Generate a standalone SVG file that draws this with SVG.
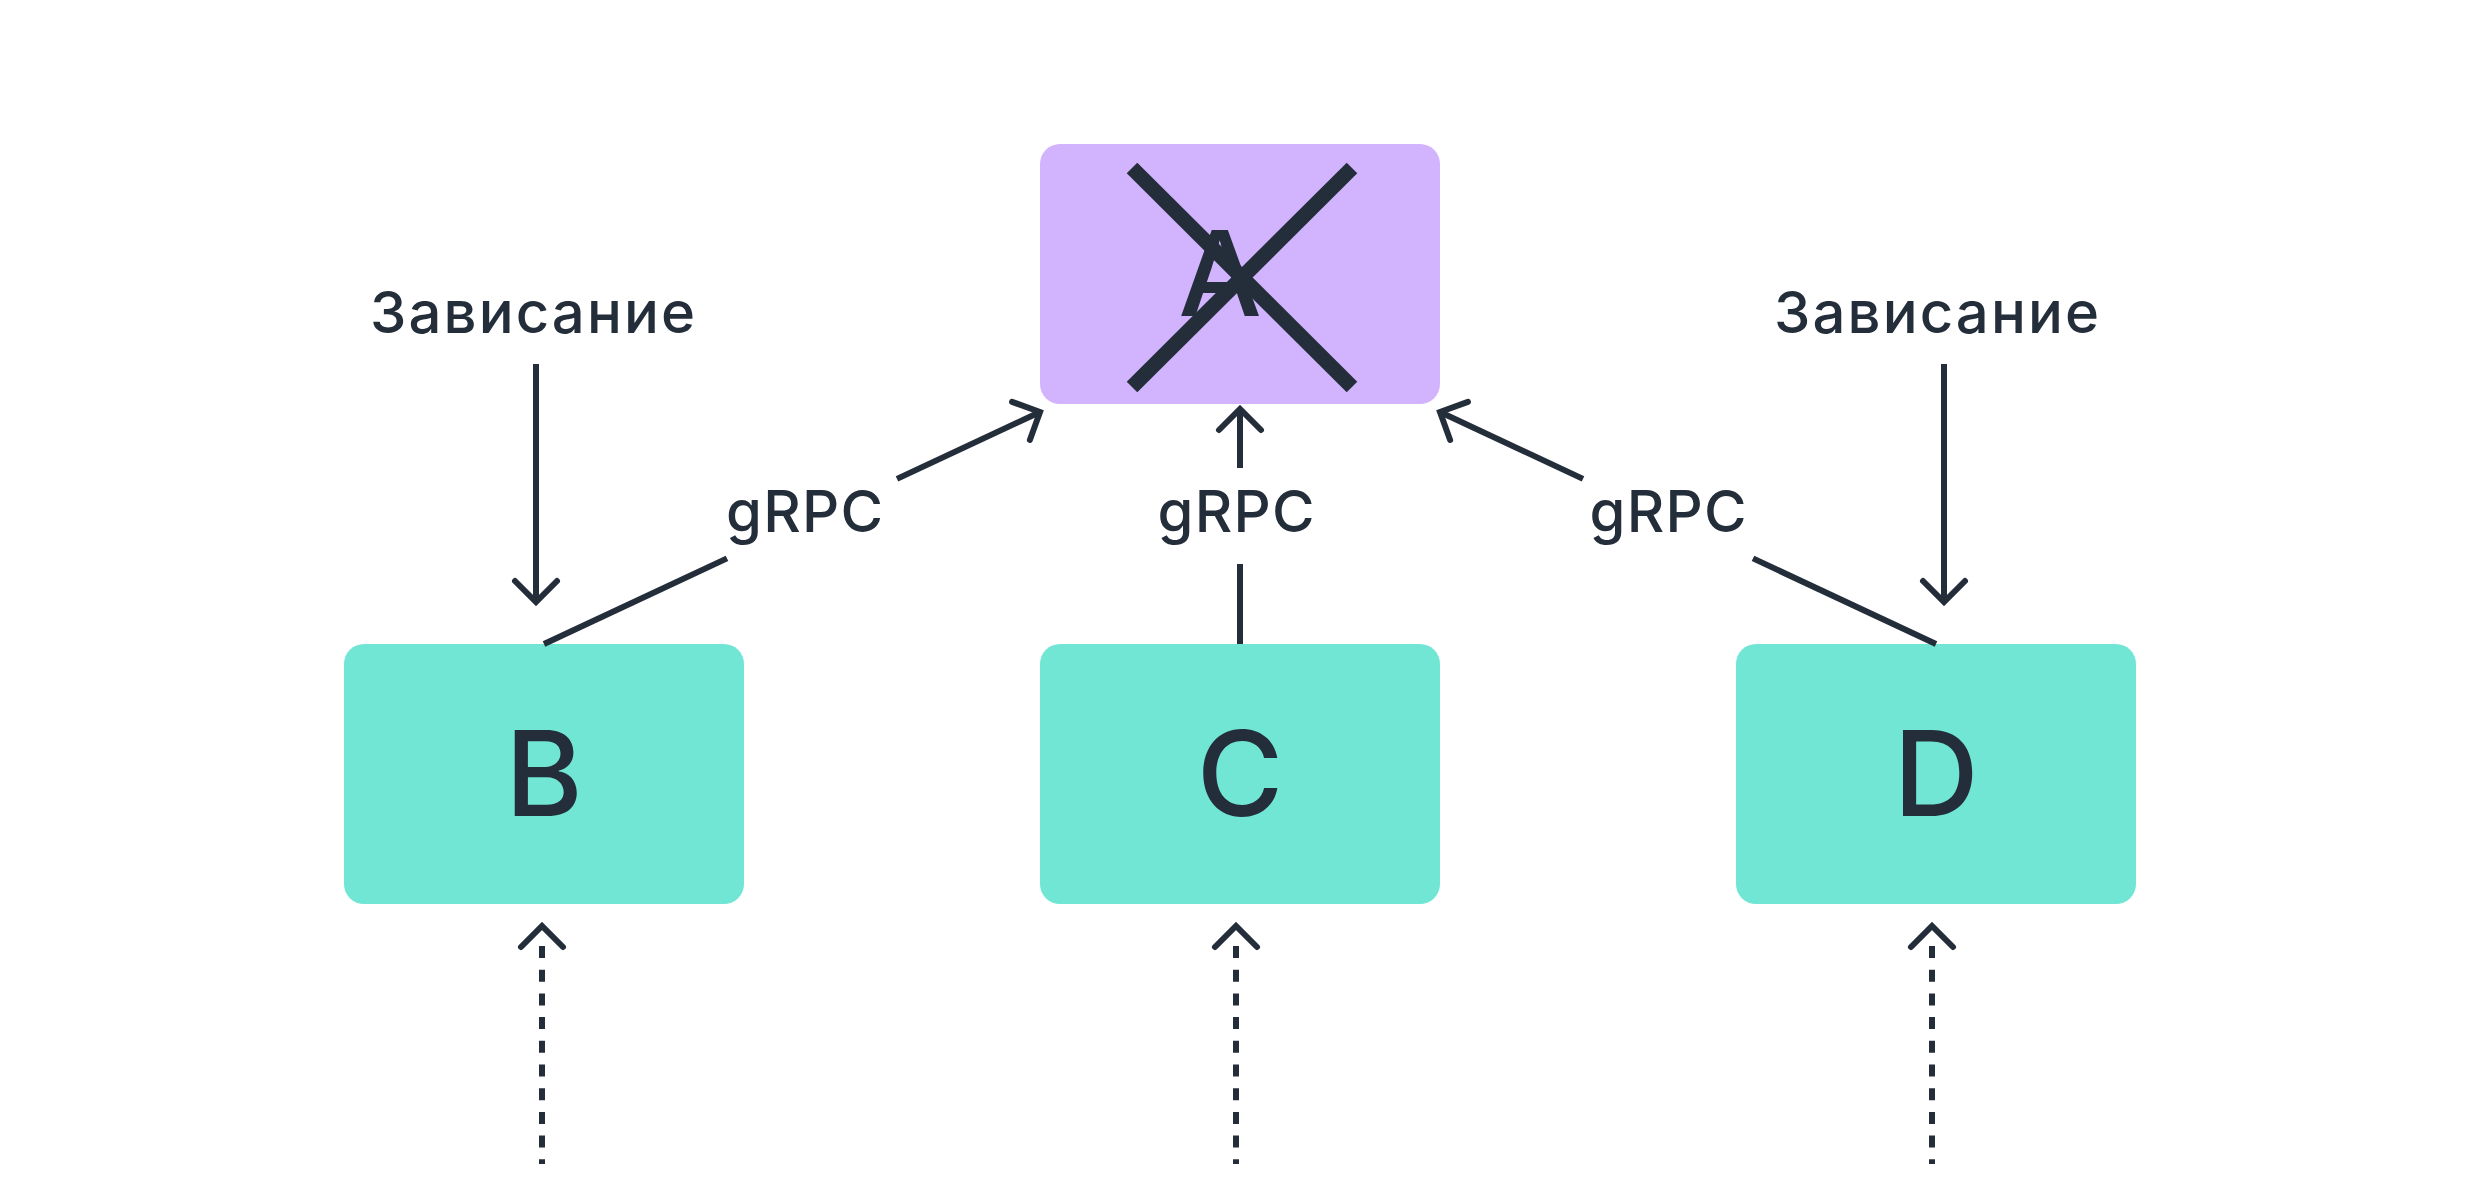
<svg xmlns="http://www.w3.org/2000/svg" width="2480" height="1200" viewBox="0 0 2480 1200">
<style>
.lbl{font-family:Inter,"Noto Sans","DejaVu Sans",sans-serif;font-size:58px;font-weight:500;fill:#242e3a;text-anchor:middle}
.big{font-family:Inter,"Noto Sans","DejaVu Sans",sans-serif;font-size:118px;font-weight:500;fill:#242e3a;text-anchor:middle}
.ln{stroke:#242e3a;stroke-width:6;fill:none}
.dot{stroke:#242e3a;stroke-width:6;fill:none;stroke-dasharray:12 11.7}
.chev{stroke:#242e3a;stroke-width:6;fill:none;stroke-linecap:round;stroke-linejoin:miter}
.teal{fill:#72e6d4}
.purple{fill:#d2b4fe}
</style>
<defs>
<marker id="arr" markerUnits="userSpaceOnUse" markerWidth="50" markerHeight="50" viewBox="-25 -25 50 50" refX="0" refY="0" orient="auto" overflow="visible">
<path d="M-21,-21 L0,0 L-21,21" fill="none" stroke="#242e3a" stroke-width="6" stroke-linecap="round" stroke-linejoin="miter"/>
</marker>
</defs>
<rect width="2480" height="1200" fill="#ffffff"/>
<g id="node-A">
<rect class="purple" x="1040" y="144" width="400" height="260" rx="20"/>
<text class="big" x="1220" y="316">A</text>
<line x1="1132" y1="168" x2="1352" y2="387" stroke="#242e3a" stroke-width="15"/>
<line x1="1352" y1="168" x2="1132" y2="387" stroke="#242e3a" stroke-width="15"/>
</g>
<g id="node-B">
<rect class="teal" x="344" y="644" width="400" height="260" rx="20"/>
<text class="big" x="544" y="816">B</text>
</g>
<g id="node-C">
<rect class="teal" x="1040" y="644" width="400" height="260" rx="20"/>
<text class="big" x="1240" y="816">C</text>
</g>
<g id="node-D">
<rect class="teal" x="1736" y="644" width="400" height="260" rx="20"/>
<text class="big" x="1936" y="816">D</text>
</g>
<g id="labels">
<text class="lbl" x="532.5" y="333" textLength="325" lengthAdjust="spacing">Зависание</text>
<text class="lbl" x="1936.5" y="333" textLength="325" lengthAdjust="spacing">Зависание</text>
<text class="lbl" x="804.5" y="532" textLength="157" lengthAdjust="spacing">gRPC</text>
<text class="lbl" x="1236" y="532" textLength="157" lengthAdjust="spacing">gRPC</text>
<text class="lbl" x="1668" y="532" textLength="157" lengthAdjust="spacing">gRPC</text>
</g>
<g id="connectors">
<line class="ln" x1="544" y1="644" x2="727" y2="558.4"/>
<line class="ln" x1="897" y1="478.9" x2="1040" y2="412" marker-end="url(#arr)"/>
<line class="ln" x1="1240" y1="644" x2="1240" y2="564"/>
<line class="ln" x1="1240" y1="468" x2="1240" y2="409" marker-end="url(#arr)"/>
<line class="ln" x1="1936" y1="644" x2="1753" y2="558.4"/>
<line class="ln" x1="1583" y1="478.9" x2="1440" y2="412" marker-end="url(#arr)"/>
<line class="ln" x1="536" y1="364" x2="536" y2="602" marker-end="url(#arr)"/>
<line class="ln" x1="1944" y1="364" x2="1944" y2="602" marker-end="url(#arr)"/>
<line class="dot" x1="542" y1="946" x2="542" y2="1164"/>
<path class="chev" d="M521,947 L542,926 L563,947"/>
<line class="dot" x1="1236" y1="946" x2="1236" y2="1164"/>
<path class="chev" d="M1215,947 L1236,926 L1257,947"/>
<line class="dot" x1="1932" y1="946" x2="1932" y2="1164"/>
<path class="chev" d="M1911,947 L1932,926 L1953,947"/>
</g>
</svg>
